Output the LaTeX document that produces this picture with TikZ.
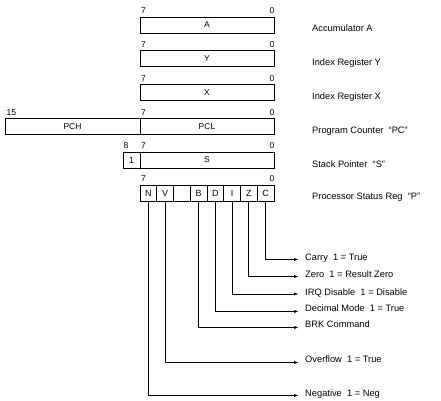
\documentclass[tikz,border=0pt]{standalone}
\usepackage{fontspec}
\setmainfont{Liberation Sans}
\usepackage{tikz}
\usetikzlibrary{arrows.meta}

\tikzset{
  reg/.style={draw, line width=1pt, minimum width=134pt, minimum height=16pt,
    inner sep=0pt, font=\fontsize{8.5}{9}\selectfont},
  cell/.style={draw, line width=1pt, minimum width=16.75pt, minimum height=16pt,
    inner sep=0pt, font=\fontsize{9}{9}\selectfont},
  bitnum/.style={inner sep=0pt, font=\fontsize{8.5}{9}\selectfont},
  regname/.style={anchor=west, inner sep=0pt, text height=7pt, text depth=2pt,
    font=\fontsize{9.3}{10}\selectfont},
  flagline/.style={line width=1pt, -{Latex[length=5pt,width=3.2pt]}}
}

\begin{document}
\begin{tikzpicture}[x=1pt, y=-1pt]
    \useasboundingbox (0,0) rectangle (441,400);

    % Registers
    \node[reg] (A) at (207,25) {A};
    \node[reg] (Y) at (207,58.5) {Y};
    \node[reg] (X) at (207,92.5) {X};
    \node[reg] (PCL) at (207,126.5) {PCL};
    \node[reg, minimum width=135pt] (PCH) at (72.5,126.5) {PCH};
    \node[reg] (S) at (207,160) {S};
    \node[cell, minimum width=17pt] (Sone) at (131.5,160) {1};

    % Status register cells
    \foreach \lbl/\nm [count=\i] in {N/N,V/V,{}/U,B/B,D/D,I/I,Z/Z,C/C}
        \node[cell] (f\nm) at ({140+16.75*(\i-0.5)},193) {\lbl};

    % Bit numbers
    \foreach \r in {A,Y,X,PCL,S} {
        \node[bitnum, anchor=south west] (\r hi) at ([xshift=1.5pt,yshift=2.5pt]\r.north west) {7};
        \node[bitnum, anchor=south east] (\r lo) at ([yshift=2.5pt]\r.north east) {0};
    }
    \node[bitnum, anchor=south west] (PCHhi) at ([xshift=2pt,yshift=2.5pt]PCH.north west) {15};
    \node[bitnum, anchor=south west] (Sonehi) at ([xshift=1pt,yshift=2.5pt]Sone.north west) {8};
    \node[bitnum, anchor=south west] (Phi) at ([xshift=1.5pt,yshift=2.5pt]fN.north west) {7};
    \node[bitnum, anchor=south east] (Plo) at ([yshift=2.5pt]fC.north east) {0};

    % Register names
    \node[regname] (nA) at (312,29) {Accumulator A};
    \node[regname] (nY) at (312,63) {Index Register Y};
    \node[regname] (nX) at (312,97) {Index Register X};
    \node[regname] (nPC) at (312,131) {Program Counter~~``PC''};
    \node[regname] (nS) at (312,165) {Stack Pointer~~``S''};
    \node[regname] (nP) at (312,197) {Processor Status Reg~~``P''};

    % Flag names
    \node[regname] (carry) at (305,258) {Carry~~1 = True};
    \node[regname] (zero) at (305,275) {Zero~~1 = Result Zero};
    \node[regname] (irq) at (305,293) {IRQ Disable~~1 = Disable};
    \node[regname] (dec) at (305,309) {Decimal Mode~~1 = True};
    \node[regname] (brk) at (305,325) {BRK Command};
    \node[regname] (ovf) at (305,360) {Overflow~~1 = True};
    \node[regname] (neg) at (305,394) {Negative~~1 = Neg};

    % Arrows
    \draw[flagline] (fC.south) |- ([xshift=-6pt,yshift=-1.5pt]carry.west);
    \draw[flagline] (fZ.south) |- ([xshift=-6pt,yshift=-1.5pt]zero.west);
    \draw[flagline] (fI.south) |- ([xshift=-6pt,yshift=-1pt]irq.west);
    \draw[flagline] (fD.south) |- ([xshift=-6pt,yshift=-2.5pt]dec.west);
    \draw[flagline] (fB.south) |- ([xshift=-6pt,yshift=-2.5pt]brk.west);
    \draw[flagline] (fV.south) |- ([xshift=-6pt,yshift=-2.5pt]ovf.west);
    \draw[flagline] (fN.south) |- ([xshift=-6pt,yshift=-1.5pt]neg.west);
\end{tikzpicture}
\end{document}
